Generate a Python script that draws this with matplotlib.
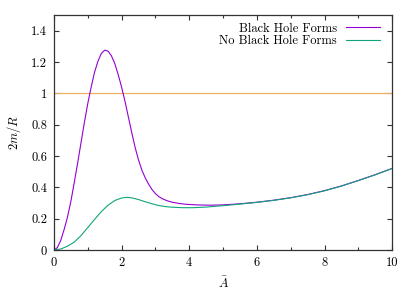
import matplotlib
matplotlib.use("Agg")
import matplotlib.pyplot as plt
from matplotlib.ticker import MultipleLocator

# values
x_bh = [0.0, 0.1, 0.2, 0.3, 0.4, 0.5, 0.6, 0.7, 0.8, 0.9, 1.0, 1.1, 1.2, 1.3, 1.4,
        1.5, 1.6, 1.7, 1.8, 1.9, 2.0, 2.1, 2.2, 2.3, 2.4, 2.5, 2.6, 2.7, 2.8, 2.9,
        3.0, 3.1, 3.2, 3.35, 3.5, 3.7, 3.9, 4.2, 4.6, 5.0, 5.5, 6.0, 6.5, 7.0,
        7.5, 8.0, 8.5, 9.0, 9.5, 10.0]
y_bh = [0.0, 0.015, 0.06, 0.13, 0.21, 0.31, 0.43, 0.555, 0.685, 0.815, 0.935, 1.04,
        1.135, 1.205, 1.255, 1.276, 1.27, 1.24, 1.19, 1.12, 1.04, 0.95, 0.85, 0.75,
        0.655, 0.575, 0.51, 0.46, 0.42, 0.386, 0.36, 0.341, 0.328, 0.314, 0.305, 0.297,
        0.292, 0.288, 0.286, 0.288, 0.295, 0.305, 0.318, 0.334, 0.354, 0.379, 0.409,
        0.444, 0.481, 0.521]

x_nobh = [0.0, 0.2, 0.4, 0.6, 0.8, 1.0, 1.2, 1.4, 1.6, 1.8, 2.0, 2.15, 2.3, 2.5, 2.7,
          2.9, 3.1, 3.3, 3.5, 3.8, 4.1, 4.5, 5.0, 5.5, 6.0, 6.5, 7.0, 7.5, 8.0, 8.5,
          9.0, 9.5, 10.0]
y_nobh = [0.0, 0.006, 0.024, 0.05, 0.092, 0.143, 0.195, 0.245, 0.286, 0.316, 0.332,
          0.336, 0.333, 0.322, 0.308, 0.295, 0.284, 0.277, 0.273, 0.27, 0.27, 0.274,
          0.283, 0.293, 0.304, 0.317, 0.333, 0.353, 0.378, 0.408, 0.443, 0.48, 0.521]

threshold = 1.0

x_ticks = [0, 2, 4, 6, 8, 10]
y_ticks = [0, 0.2, 0.4, 0.6, 0.8, 1.0, 1.2, 1.4]
y_tick_labels = ["0", "0.2", "0.4", "0.6", "0.8", "1", "1.2", "1.4"]

plt.rcParams['font.family'] = ['cmr10', 'DejaVu Serif']
plt.rcParams['mathtext.fontset'] = 'cm'
plt.rcParams['axes.formatter.use_mathtext'] = True
plt.rcParams['font.size'] = 9

fig = plt.figure(figsize=(4.15, 2.91), dpi=100)
ax = fig.add_axes([0.130, 0.141, 0.815, 0.807])

ax.axhline(threshold, color='#eeb060', linewidth=0.9)
ax.plot(x_bh, y_bh, color='#9400d3', linewidth=0.8, label='Black Hole Forms')
ax.plot(x_nobh, y_nobh, color='#10a57c', linewidth=0.8, label='No Black Hole Forms')

ax.set_xlim(0, 10)
ax.set_ylim(0, 1.5)
ax.set_xticks(x_ticks)
ax.set_xticklabels([str(t) for t in x_ticks])
ax.set_yticks(y_ticks)
ax.set_yticklabels(y_tick_labels)
ax.xaxis.set_minor_locator(MultipleLocator(1))
ax.tick_params(which='both', direction='in', top=True, right=True, width=0.8, color='#333333')
ax.tick_params(which='major', length=3.5, pad=5)
ax.tick_params(which='minor', length=2)
for s in ax.spines.values():
    s.set_linewidth(0.9)
    s.set_color('#333333')

ax.set_xlabel(r'$\bar{A}$', labelpad=4)
ax.set_ylabel(r'$2m/R$', labelpad=6)

leg = ax.legend(loc='upper right', bbox_to_anchor=(0.985, 1.0), frameon=False,
                markerfirst=False, handlelength=2.7, handletextpad=0.7,
                borderaxespad=0.2, labelspacing=0.0)
leg._legend_box.align = "right"

fig.savefig('out.png', dpi=100)
